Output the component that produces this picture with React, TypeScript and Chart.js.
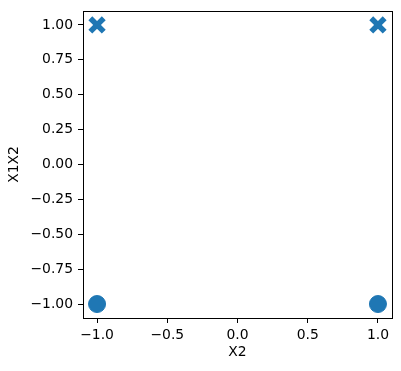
import React, { useEffect, useRef } from "react";
import { Chart, registerables } from "chart.js";

Chart.register(...registerables);

const crossX = [-1, 1];
const crossY = [1, 1];
const circleX = [-1, 1];
const circleY = [-1, -1];
const xTicks = [-1, -0.5, 0, 0.5, 1];
const yTicks = [-1, -0.75, -0.5, -0.25, 0, 0.25, 0.5, 0.75, 1];
const xTitle = "X2";
const yTitle = "X1X2";

const fmt = (v: number, d: number) => {
  const s = Math.abs(v).toFixed(d);
  return v < 0 ? "\u2212" + s : s;
};

const framePlugin = {
  id: "frame",
  afterDraw(chart: any) {
    const { ctx, chartArea } = chart;
    ctx.save();
    ctx.strokeStyle = "#000";
    ctx.lineWidth = 1;
    ctx.strokeRect(
      Math.round(chartArea.left) + 0.5,
      Math.round(chartArea.top) + 0.5,
      Math.round(chartArea.right - chartArea.left),
      Math.round(chartArea.bottom - chartArea.top)
    );
    ctx.restore();
  },
};

const zeroPad = (s: any) => {
  s.paddingTop = 0;
  s.paddingBottom = 0;
  s.paddingLeft = 0;
  s.paddingRight = 0;
};

export default function App() {
  const ref = useRef<HTMLCanvasElement>(null);
  useEffect(() => {
    const font = { family: "DejaVu Sans", size: 13.9 };
    const chart = new Chart(ref.current!, {
      type: "scatter",
      data: {
        datasets: [
          {
            data: circleX.map((x, i) => ({ x, y: circleY[i] })),
            pointStyle: "circle",
            pointRadius: 8.5,
            pointBorderWidth: 1,
            backgroundColor: "#1f77b4",
            borderColor: "#1f77b4",
          },
          {
            data: crossX.map((x, i) => ({ x, y: crossY[i] })),
            pointStyle: "crossRot",
            pointRadius: 9.5,
            pointBorderWidth: 5.5,
            backgroundColor: "#1f77b4",
            borderColor: "#1f77b4",
          },
        ],
      },
      options: {
        responsive: false,
        animation: false,
        layout: { autoPadding: false, padding: { top: 11, right: 9, left: 0, bottom: 0 } },
        plugins: { legend: { display: false }, tooltip: { enabled: false } },
        scales: {
          x: {
            type: "linear",
            min: -1.1,
            max: 1.1,
            afterBuildTicks: (s: any) => {
              s.ticks = xTicks.map((v) => ({ value: v }));
            },
            afterFit: (s: any) => {
              s.height = 53;
              zeroPad(s);
            },
            ticks: {
              color: "#000",
              font,
              padding: 4,
              maxRotation: 0,
              autoSkip: false,
              callback: (v: any) => fmt(Number(v), 1),
            },
            grid: {
              drawOnChartArea: false,
              drawTicks: true,
              tickLength: 5,
              tickColor: "#000",
            },
            border: { color: "#000" },
            title: {
              display: true,
              text: xTitle,
              color: "#000",
              font,
              padding: { top: 0, bottom: 10.7 },
            },
          },
          y: {
            type: "linear",
            min: -1.1,
            max: 1.1,
            afterBuildTicks: (s: any) => {
              s.ticks = yTicks.map((v) => ({ value: v }));
            },
            afterFit: (s: any) => {
              s.width = 83;
              zeroPad(s);
            },
            ticks: {
              color: "#000",
              font,
              padding: 5,
              autoSkip: false,
              callback: (v: any) => fmt(Number(v), 2),
            },
            grid: {
              drawOnChartArea: false,
              drawTicks: true,
              tickLength: 5,
              tickColor: "#000",
            },
            border: { color: "#000" },
            title: {
              display: true,
              text: yTitle,
              color: "#000",
              font,
              padding: { top: 5.9, bottom: 0 },
            },
          },
        },
      },
      plugins: [framePlugin],
    } as any);
    return () => chart.destroy();
  }, []);
  return (
    <div style={{ position: "fixed", left: 0, top: 0, width: 401, height: 371, background: "#fff" }}>
      <canvas ref={ref} width={401} height={371} />
    </div>
  );
}
